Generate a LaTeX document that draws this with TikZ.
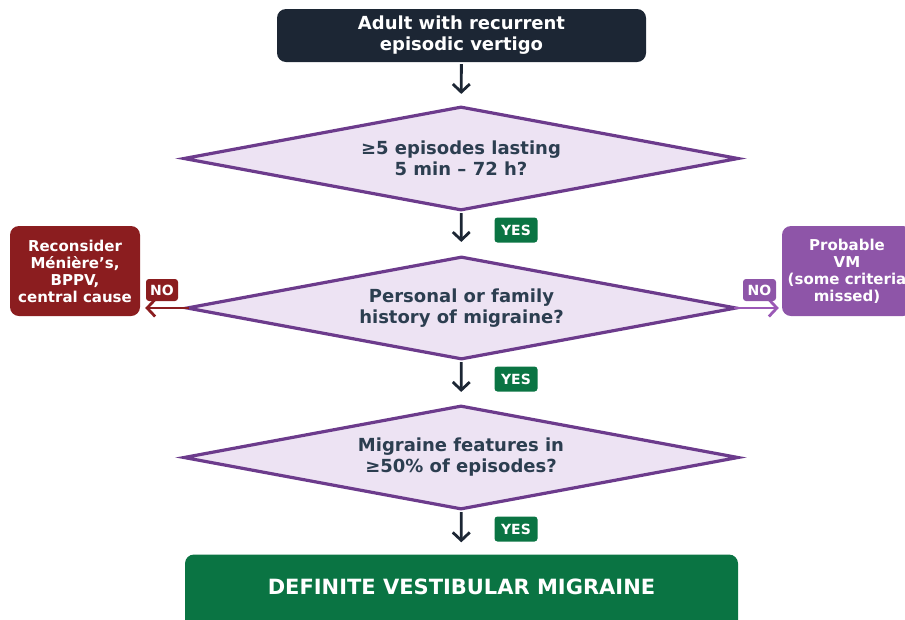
\documentclass[tikz,border=0pt]{standalone}
\usepackage{fontspec}
\setmainfont{DejaVu Sans}
\usetikzlibrary{shapes.geometric,arrows.meta}
\definecolor{navy}{HTML}{1C2634}
\definecolor{lav}{HTML}{EDE3F3}
\definecolor{purpleline}{HTML}{6C3B8C}
\definecolor{textdark}{HTML}{2C3E50}
\definecolor{okgreen}{HTML}{0A7443}
\definecolor{noRed}{HTML}{8B1D1F}
\definecolor{purplebox}{HTML}{8E55A8}
\definecolor{purplearrow}{HTML}{9B59B6}
\begin{document}
\begin{tikzpicture}[x=1pt,y=-1pt,
  box/.style={rounded corners=9pt, align=center, text=white, inner sep=0pt},
  dec/.style={diamond, aspect=5.35, draw=purpleline, line width=3.2pt, fill=lav,
    minimum width=555pt, minimum height=104pt, inner sep=0pt, align=center,
    text=textdark, font=\fontsize{18}{21}\selectfont\bfseries},
  badge/.style={rounded corners=3pt, minimum width=43pt, minimum height=25pt,
    inner sep=0pt, text=white, font=\fontsize{14}{15}\selectfont\bfseries},
  nobadge/.style={badge, minimum width=32pt, minimum height=22pt},
  arr/.style={line width=2.8pt, -{Straight Barb[length=8pt,width=17pt]}}]
\path[use as bounding box] (0,0) rectangle (905,619);
\clip (0,0) rectangle (905,619);

\node[box, fill=navy, minimum width=369pt, minimum height=53pt,
  font=\fontsize{18}{21}\selectfont\bfseries] (start) at (461.5,35.5)
  {Adult with recurrent\\episodic vertigo};
\node[dec] (d1) at (461,158.5) {≥5 episodes lasting\\5 min – 72 h?};
\node[dec, minimum width=550pt, minimum height=103pt] (d2) at (461.5,308) {Personal or family\\history of migraine?};
\node[dec] (d3) at (461,457.5) {Migraine features in\\≥50\% of episodes?};
\node[box, fill=okgreen, minimum width=553pt, minimum height=76pt, text depth=11pt,
  font=\fontsize{21}{24}\selectfont\bfseries] (final) at (461.5,592.5)
  {DEFINITE VESTIBULAR MIGRAINE};
\node[box, fill=noRed, minimum width=130pt, minimum height=90pt,
  font=\fontsize{15}{17}\selectfont\bfseries] (left) at (75,271)
  {Reconsider\\Ménière’s,\\BPPV,\\central cause};
\node[box, fill=purplebox, minimum width=130pt, minimum height=90pt,
  font=\fontsize{15}{17}\selectfont\bfseries] (right) at (847,271)
  {Probable\\VM\\(some criteria\\missed)};

\draw[arr, navy, shorten <=2pt, shorten >=11pt] (start) -- (d1);
\draw[arr, navy, shorten <=1pt, shorten >=13pt] (d1) -- (d2);
\draw[arr, navy, shorten <=1pt, shorten >=12pt] (d2) -- (d3);
\draw[arr, navy, shorten <=1pt, shorten >=12pt] (d3) -- (final);
\draw[arr, noRed, shorten <=-4pt, shorten >=5pt] (d2.west) -- (left.east |- d2.west);
\draw[arr, purplearrow, shorten <=-4pt, shorten >=3pt] (d2.east) -- (right.west |- d2.east);

\node[badge, fill=okgreen] (y1) at (516,230) {YES};
\node[badge, fill=okgreen] (y2) at (516,379) {YES};
\node[badge, fill=okgreen] (y3) at (516,529) {YES};
\node[nobadge, fill=noRed] (n1) at (162,290) {NO};
\node[nobadge, fill=purplebox, minimum width=33pt] (n2) at (759.5,290) {NO};
\end{tikzpicture}
\end{document}
